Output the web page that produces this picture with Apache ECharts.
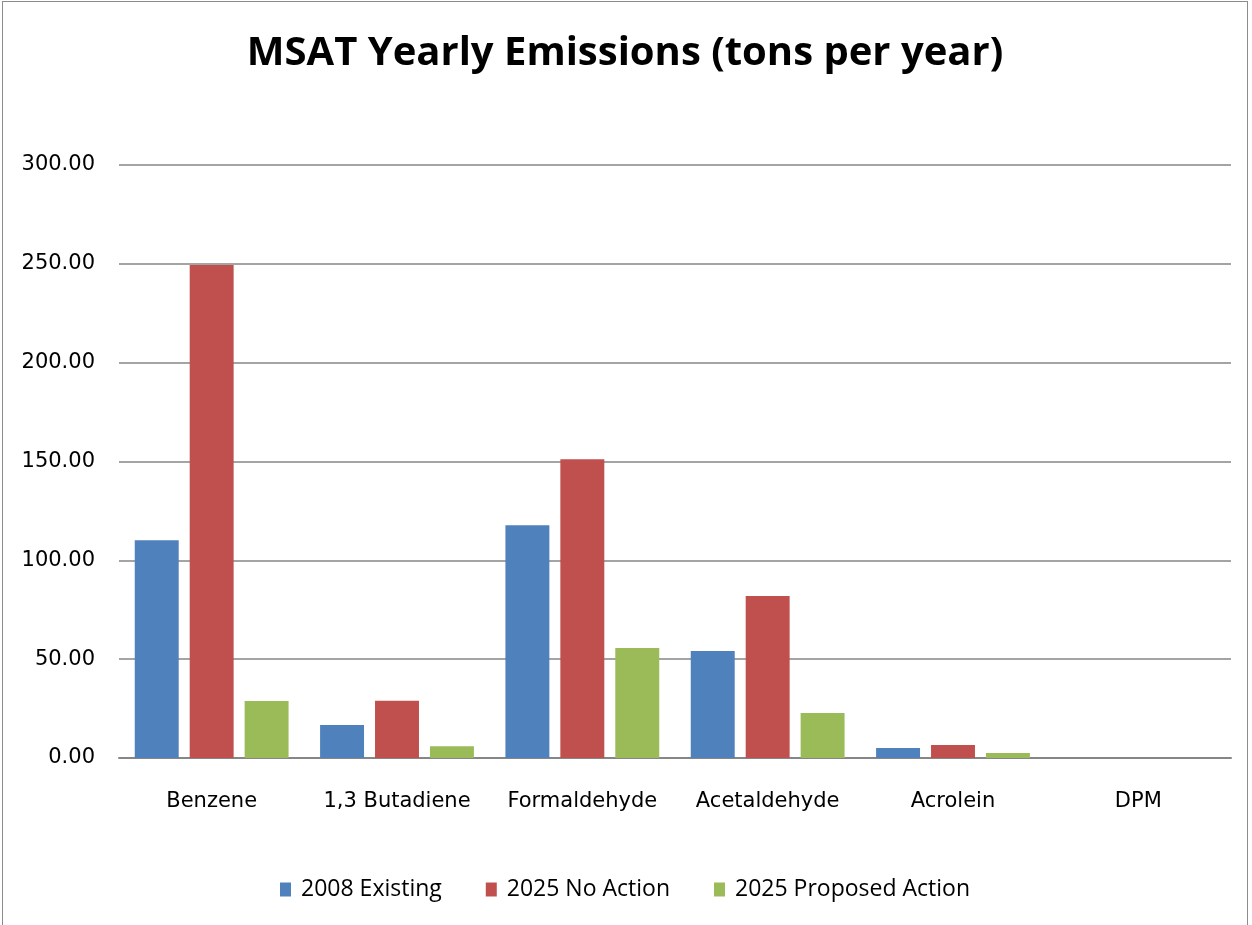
<!DOCTYPE html>
<html>
<head>
<meta charset="utf-8">
<script src="https://cdn.jsdelivr.net/npm/echarts@6/dist/echarts.min.js"></script>
<style>
  html, body { margin: 0; padding: 0; background: #fff; }
  #main { position: absolute; left: 2px; top: 1px; width: 1246px; height: 930px; border: 1px solid #8c8c8c; box-sizing: border-box; }
</style>
</head>
<body>
<div id="main"></div>
<script>
var categories = ['Benzene', '1,3 Butadiene', 'Formaldehyde', 'Acetaldehyde', 'Acrolein', 'DPM'];
var existing2008 = [110.1, 16.7, 117.7, 54.1, 5.1, 0];
var noAction2025 = [249.4, 28.9, 151.2, 81.9, 6.6, 0];
var proposed2025 = [28.8, 6.0, 55.6, 22.8, 2.5, 0];

var chart = echarts.init(document.getElementById('main'));

var option = {
	title : {
		text : 'MSAT Yearly Emissions (tons per year)',
		left : 'center',
		top : 27,
		textStyle : {
			fontFamily : 'Open Sans',
			fontWeight : 'bold',
			fontSize : 40,
			color : '#000'
		}
	},
	legend : {
		bottom : 24,
		left : 'center',
		itemWidth : 11,
		itemHeight : 14,
		itemGap : 44,
		icon : 'rect',
		textStyle : {
			fontFamily : 'Open Sans',
			fontSize : 23,
			color : '#000',
			padding : [0, 0, 0, 5]
		},
		data : [ '2008 Existing', '2025 No Action', '2025 Proposed Action' ]
	},
	grid : {
		left : 116,
		right : 16,
		top : 163,
		bottom : 172
	},
	xAxis : {
		type : 'category',
		data : categories,
		axisLine : { lineStyle : { color : '#868686', width : 2 } },
		axisTick : { show : false },
		axisLabel : {
			interval : 0,
			margin : 33,
			fontFamily : 'DejaVu Sans',
			fontSize : 21,
			color : '#000'
		}
	},
	yAxis : {
		type : 'value',
		min : 0,
		max : 300,
		interval : 50,
		axisLine : { show : false },
		axisTick : { show : false },
		axisLabel : {
			margin : 24,
			fontFamily : 'DejaVu Sans',
			fontSize : 21,
			color : '#000',
			formatter : function (v) { return v.toFixed(2); }
		},
		splitLine : { lineStyle : { color : '#868686', width : 1.5 } }
	},
	series : [ {
		name : '2008 Existing',
		type : 'bar',
		data : existing2008,
		barGap : '25%',
		barCategoryGap : '17%',
		itemStyle : { color : '#4f81bd' }
	}, {
		name : '2025 No Action',
		type : 'bar',
		data : noAction2025,
		itemStyle : { color : '#c0504d' }
	}, {
		name : '2025 Proposed Action',
		type : 'bar',
		data : proposed2025,
		itemStyle : { color : '#9bbb59' }
	} ]
};

chart.setOption(option);
</script>
</body>
</html>
